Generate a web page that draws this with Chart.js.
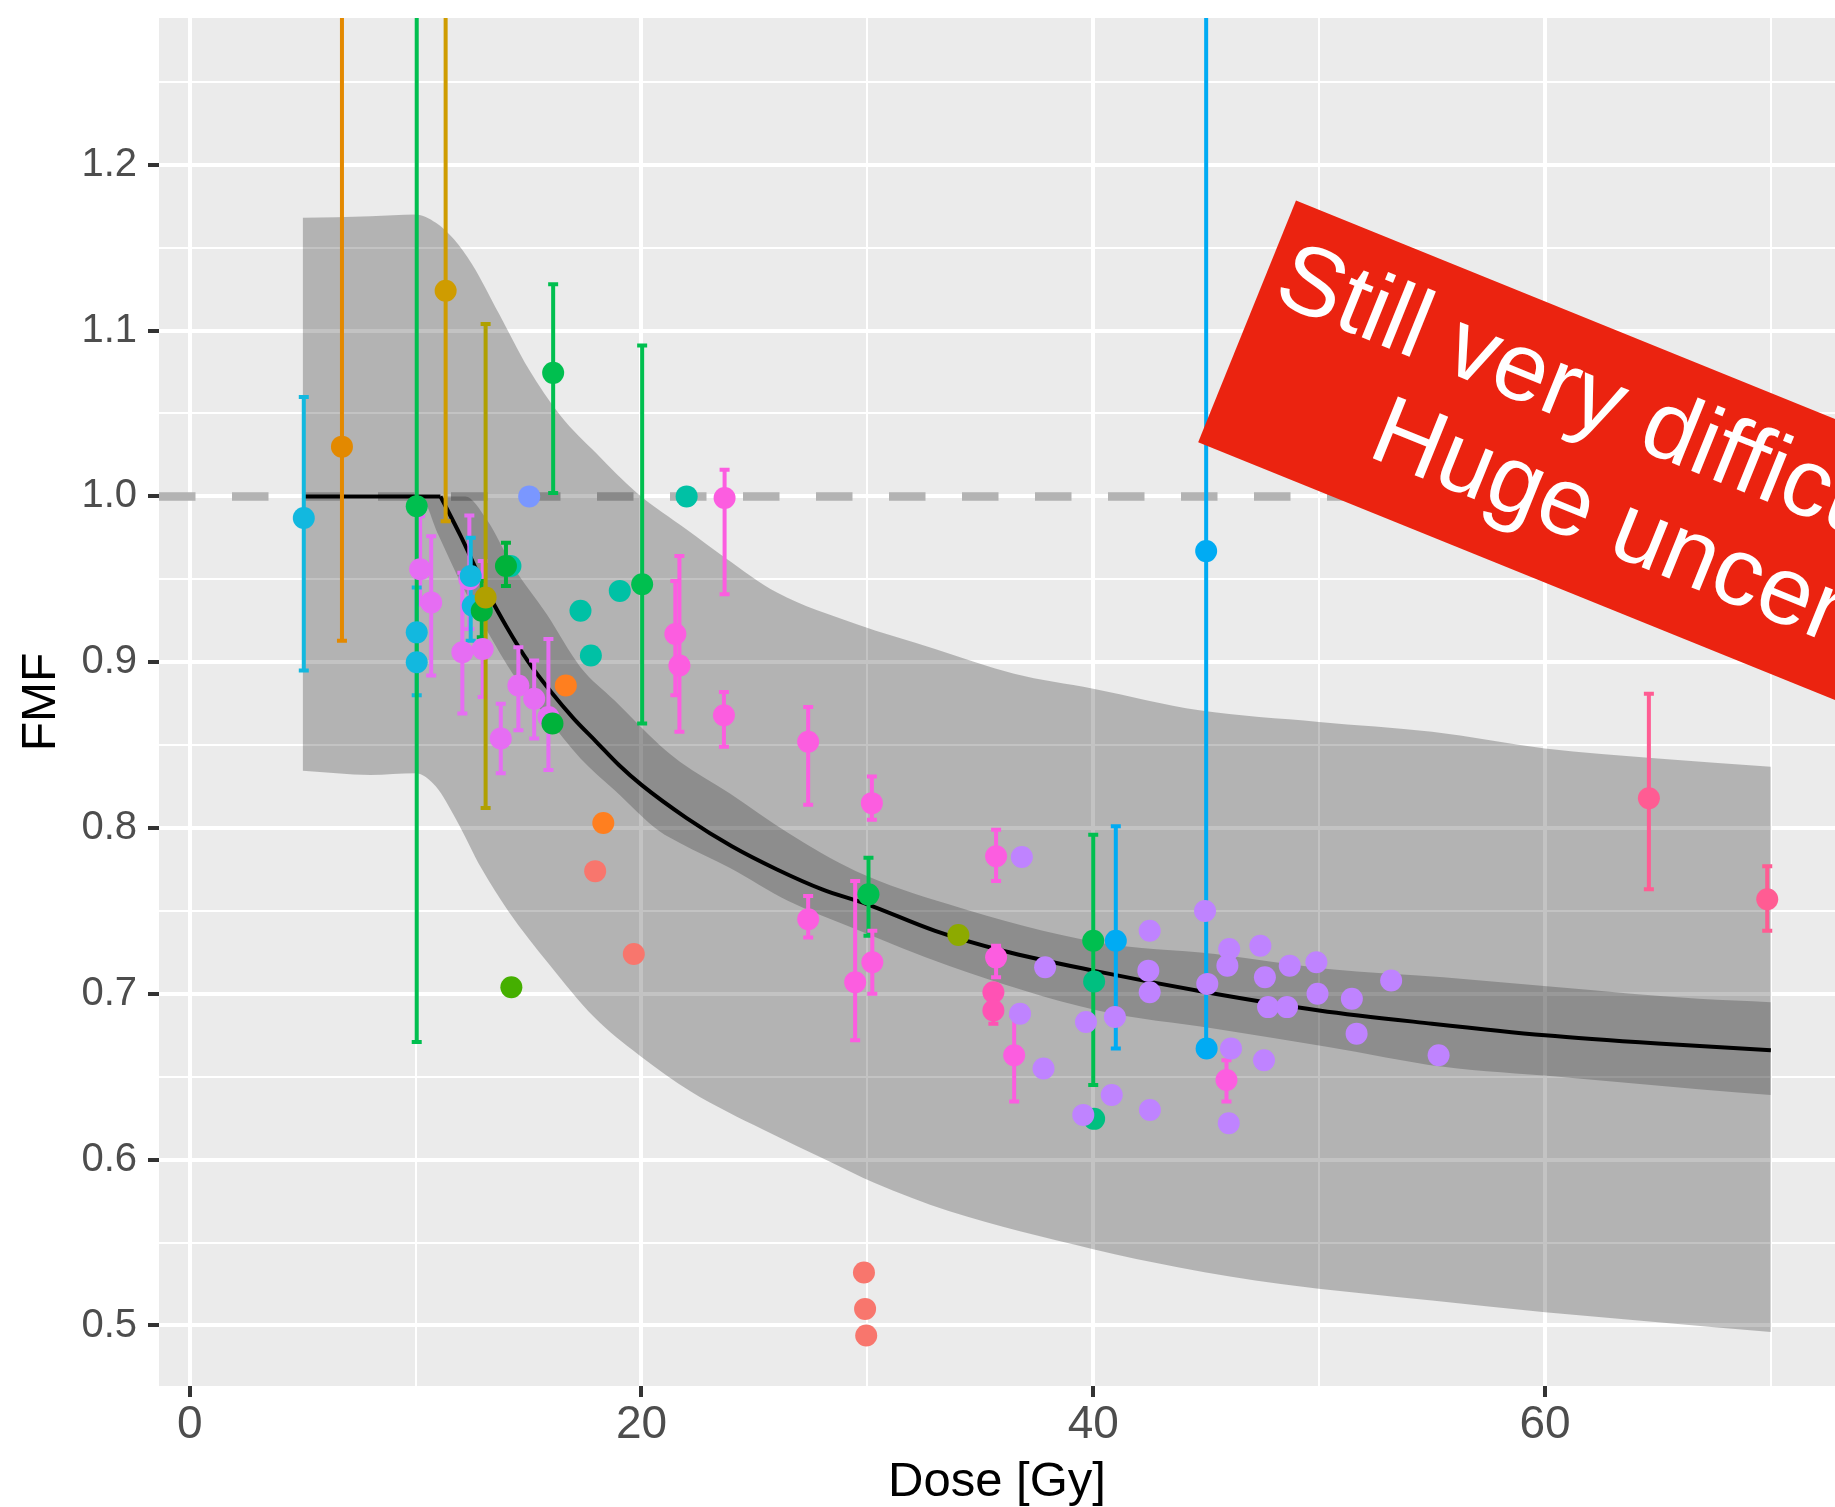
<!DOCTYPE html>
<html>
<head>
<meta charset="utf-8">
<title>FMF vs Dose</title>
<script src="https://cdn.jsdelivr.net/npm/chart.js@4.4.1/dist/chart.umd.min.js"></script>
<style>
  html, body { margin: 0; padding: 0; background: #ffffff; }
  canvas { display: block; }
</style>
</head>
<body>
<canvas id="fmfChart" width="1835" height="1507"></canvas>
<script>
// axis limits and the reference line
const doseLimits = [-1.36, 72.84];
const fmfLimits = [0.4635, 1.2885];
const referenceFmf = 1.0;

// fitted curve [dose, FMF]: flat part, then the falling part
const fitFlat = [[5, 1.0], [11.1, 1.0]];
const fitCurve = [[11.1, 1.0], [12, 0.976], [13, 0.947], [14, 0.922], [15, 0.900],
  [16, 0.882], [17, 0.866], [18, 0.852], [19, 0.838], [20, 0.826], [22, 0.806], [24, 0.789],
  [26, 0.775], [28, 0.763], [30, 0.754], [33, 0.738], [36, 0.726], [40, 0.714], [45, 0.701],
  [50, 0.690], [55, 0.682], [60, 0.675], [65, 0.670], [70, 0.666]];

// narrow (dark) band
const innerUpper = [[5, 1.0], [12.2, 1.0], [13.15, 0.986], [14.3, 0.958], [15.8, 0.929], [17.3, 0.897],
  [18.8, 0.877], [20.8, 0.850], [21.7, 0.840], [23.9, 0.821], [26.5, 0.797], [29.5, 0.774],
  [33.6, 0.754], [40.2, 0.731], [45.4, 0.724], [50.4, 0.715], [55.5, 0.710], [60.6, 0.704],
  [66.8, 0.697], [70, 0.695]];
const innerLower = [[5, 1.0], [10.2, 1.0], [11.0, 0.977], [12.1, 0.945], [13.2, 0.918], [14.3, 0.893],
  [15.8, 0.867], [17.3, 0.842], [18.8, 0.823], [20.8, 0.798], [21.7, 0.791], [23.9, 0.776],
  [26.5, 0.756], [29.5, 0.739], [33.6, 0.717], [40.2, 0.690], [45.4, 0.679], [50.4, 0.668],
  [55.5, 0.656], [60.6, 0.650], [66.8, 0.6425], [70, 0.639]];

// wide (light) band
const outerUpper = [[5, 1.168], [8, 1.169], [10, 1.170], [10.9, 1.165], [11.7, 1.155], [12.5, 1.140],
  [13.7, 1.110], [15.0, 1.077], [16.4, 1.049], [18.0, 1.026], [19.8, 1.002], [22.0, 0.980],
  [23.7, 0.963], [26.0, 0.942], [29.5, 0.923], [33.0, 0.908], [36.5, 0.893], [40.0, 0.884],
  [44.7, 0.871], [50, 0.864], [55, 0.858], [60, 0.848], [65, 0.842], [70, 0.837]];
const outerLower = [[5, 0.8345], [8, 0.832], [10, 0.833], [10.9, 0.825], [11.8, 0.805], [12.9, 0.776],
  [14.1, 0.750], [15.9, 0.718], [17.9, 0.686], [19.9, 0.663], [22.2, 0.641], [25.4, 0.618],
  [28.3, 0.599], [30.3, 0.586], [33.6, 0.569], [40, 0.546], [43.8, 0.535], [48.3, 0.525],
  [55, 0.515], [60, 0.508], [65, 0.502], [70, 0.496]];

// measured points per study: [dose, FMF, lower, upper]
const salmonPts = [[17.95, 0.774], [19.66, 0.724], [29.85, 0.532], [29.9, 0.510], [29.95, 0.494]];
const orangePts = [[6.74, 1.030, 0.913, 1.6]];
const brightOrangePts = [[16.65, 0.886], [18.31, 0.803]];
const goldPts = [[11.33, 1.124, 0.985, 1.6]];
const oliveGoldPts = [[13.1, 0.939, 0.812, 1.104]];
const olivePts = [[34.03, 0.7355]];
const limePts = [[14.24, 0.704]];
const greenPts = [[10.05, 0.994, 0.671, 1.6], [16.09, 1.0745, 1.002, 1.128], [20.03, 0.947, 0.863, 1.091],
  [30.05, 0.760, 0.735, 0.782], [40.0, 0.732, 0.645, 0.796]];
const darkGreenPts = [[12.93, 0.931, 0.915, 0.949], [14.0, 0.958, 0.946, 0.972], [16.06, 0.863]];
const seaGreenPts = [[40.04, 0.7075], [40.04, 0.6246]];
const tealPts = [[14.2, 0.958], [17.3, 0.931], [17.76, 0.904], [19.04, 0.943], [22.0, 1.0]];
const cyanPts = [[5.05, 0.987, 0.895, 1.06], [10.05, 0.918, 0.88, 0.945], [10.05, 0.900],
  [12.44, 0.952, 0.913, 0.975], [12.53, 0.934]];
const skyPts = [[41.0, 0.732, 0.667, 0.801], [45.0, 0.967, 0.667, 1.6], [45.02, 0.667]];
const periwinklePts = [[15.03, 1.0]];
const lilacPts = [[10.2, 0.956, 0.935, 0.988], [10.69, 0.936, 0.892, 0.976], [12.07, 0.906, 0.869, 0.954],
  [12.38, 0.95, 0.92, 0.9885], [12.97, 0.908, 0.879, 0.961], [13.77, 0.854, 0.833, 0.875],
  [14.55, 0.886, 0.859, 0.909], [15.25, 0.878, 0.854, 0.901], [15.88, 0.867, 0.835, 0.914]];
const hotPinkPts = [[21.5, 0.917, 0.88, 0.949], [21.68, 0.898, 0.858, 0.964], [23.68, 0.999, 0.941, 1.016],
  [23.65, 0.868, 0.849, 0.882], [27.38, 0.852, 0.814, 0.873], [27.38, 0.745, 0.734, 0.759],
  [30.2, 0.815, 0.805, 0.831], [29.46, 0.707, 0.672, 0.768], [30.22, 0.719, 0.700, 0.738],
  [35.7, 0.783, 0.768, 0.799], [35.7, 0.722, 0.710, 0.729], [36.5, 0.663, 0.635, 0.687],
  [45.9, 0.648, 0.635, 0.66]];
const rosePts = [[35.58, 0.701], [35.58, 0.690, 0.682, 0.698]];
const pinkRedPts = [[64.6, 0.818, 0.763, 0.881], [69.84, 0.757, 0.738, 0.777]];
const lavenderPts = [[36.84, 0.7825], [37.87, 0.716], [36.76, 0.688], [37.8, 0.655], [39.68, 0.683],
  [39.56, 0.627], [40.96, 0.686], [40.82, 0.639], [42.5, 0.738], [42.44, 0.714], [42.5, 0.701],
  [42.51, 0.630], [44.95, 0.750], [45.05, 0.706], [46.02, 0.727], [45.94, 0.717], [46.1, 0.667],
  [46.0, 0.622], [47.4, 0.729], [47.6, 0.710], [47.74, 0.692], [47.56, 0.660], [48.58, 0.692],
  [48.7, 0.717], [49.88, 0.719], [49.93, 0.700], [51.45, 0.697], [51.66, 0.676], [53.19, 0.708],
  [55.29, 0.663]];

const bannerLines = ["Still very difficult!", "Huge uncertainties"];

// groups in drawing order (first is drawn first)
const groups = [
  [salmonPts, "#F8766D"], [orangePts, "#E38900"], [brightOrangePts, "#FF7F1F"],
  [goldPts, "#CF9C00"], [olivePts, "#8DAA00"], [limePts, "#45AF00"], [tealPts, "#00C1A5"],
  [lilacPts, "#E66DF3"], [cyanPts, "#12B8DF"], [greenPts, "#00BF4F"], [darkGreenPts, "#00B23A"],
  [oliveGoldPts, "#B0A000"], [seaGreenPts, "#00BF80"], [periwinklePts, "#7A97FF"],
  [hotPinkPts, "#FC5DE0"], [rosePts, "#FF52B4"], [pinkRedPts, "#FF5C93"], [skyPts, "#00ABF3"],
  [lavenderPts, "#BF83FF"]
];

Chart.defaults.font.family = "'Liberation Sans', Arial, sans-serif";

const toXY = pairs => pairs.map(p => ({ x: p[0], y: p[1] }));

function edge(pairs, fill, color, order) {
  return {
    data: toXY(pairs), fill: fill, backgroundColor: color, borderColor: "rgba(0,0,0,0)",
    borderWidth: 0, pointRadius: 0, cubicInterpolationMode: "monotone", order: order
  };
}

const datasets = [
  {
    data: toXY([[doseLimits[0], referenceFmf], [doseLimits[1], referenceFmf]]),
    borderColor: "#B3B3B3", borderWidth: 8.5, borderDash: [36.5, 36.5], borderCapStyle: "butt",
    pointRadius: 0, fill: false, order: 1000
  },
  edge(outerUpper, "+1", "rgba(0,0,0,0.235)", 900),
  edge(outerLower, false, "rgba(0,0,0,0)", 900),
  edge(innerUpper, "+1", "rgba(0,0,0,0.21)", 800),
  edge(innerLower, false, "rgba(0,0,0,0)", 800),
  {
    data: toXY(fitFlat), borderColor: "#000000", borderWidth: 4, pointRadius: 0,
    fill: false, order: 701
  },
  {
    data: toXY(fitCurve), borderColor: "#000000", borderWidth: 4, pointRadius: 0,
    cubicInterpolationMode: "monotone", fill: false, order: 700, isCurve: true
  }
];

groups.forEach(([rows, color], k) => {
  datasets.push({
    data: rows.map(r => ({ x: r[0], y: r[1] })),
    bars: rows.filter(r => r.length > 2).map(r => ({ x: r[0], lo: r[2], hi: r[3] })),
    showLine: false, fill: false, pointRadius: 11, pointHoverRadius: 11, pointBorderWidth: 0,
    backgroundColor: color, borderColor: color, order: 100 - k
  });
});

// grey panel behind the grid
const panel = {
  id: "panel",
  beforeDraw(chart) {
    const { ctx, chartArea } = chart;
    ctx.save();
    ctx.fillStyle = "#ffffff";
    ctx.fillRect(0, 0, chart.width, chart.height);
    ctx.fillStyle = "#EBEBEB";
    ctx.fillRect(chartArea.left, chartArea.top, chartArea.width, chartArea.height);
    ctx.restore();
  }
};

// error bars, drawn right after the fitted curve so points sit on top
const errorBars = {
  id: "errorBars",
  afterDatasetDraw(chart, args) {
    if (!chart.data.datasets[args.index].isCurve) return;
    const { ctx, chartArea, scales } = chart;
    ctx.save();
    ctx.beginPath();
    ctx.rect(chartArea.left, chartArea.top, chartArea.width, chartArea.height);
    ctx.clip();
    ctx.lineWidth = 4;
    ctx.lineCap = "butt";
    chart.data.datasets.forEach(set => {
      if (!set.bars) return;
      ctx.strokeStyle = set.borderColor;
      set.bars.forEach(b => {
        const px = scales.x.getPixelForValue(b.x);
        const top = scales.y.getPixelForValue(b.hi);
        const bot = scales.y.getPixelForValue(b.lo);
        ctx.beginPath();
        ctx.moveTo(px, top);
        ctx.lineTo(px, bot);
        ctx.moveTo(px - 5, top);
        ctx.lineTo(px + 5, top);
        ctx.moveTo(px - 5, bot);
        ctx.lineTo(px + 5, bot);
        ctx.stroke();
      });
    });
    ctx.restore();
  }
};

// red note across the upper right
const banner = {
  id: "banner",
  afterDraw(chart) {
    const { ctx } = chart;
    ctx.save();
    ctx.translate(1296, 200.6);
    ctx.rotate(22.05 * Math.PI / 180);
    ctx.fillStyle = "#EB2310";
    ctx.fillRect(0, 0, 1100, 260.6);
    ctx.fillStyle = "#ffffff";
    ctx.font = "97px 'Liberation Sans', Arial, sans-serif";
    ctx.textBaseline = "alphabetic";
    ctx.fillText(bannerLines[0], 14, 102);
    ctx.fillText(bannerLines[1], 160, 210);
    ctx.restore();
  }
};

const isMajorX = v => Math.abs(v % 20) < 1e-6;
const isMajorY = v => Math.abs(v * 10 - Math.round(v * 10)) < 1e-6;

new Chart(document.getElementById("fmfChart"), {
  type: "line",
  data: { datasets: datasets },
  plugins: [panel, errorBars, banner],
  options: {
    responsive: false,
    animation: false,
    devicePixelRatio: 1,
    events: [],
    layout: { autoPadding: false, padding: { top: 18, right: 0, bottom: 0, left: 0 } },
    plugins: { legend: { display: false }, tooltip: { enabled: false } },
    scales: {
      x: {
        type: "linear",
        min: doseLimits[0],
        max: doseLimits[1],
        afterFit: s => { s.height = 121; s.paddingLeft = 0; s.paddingRight = 0; },
        border: { display: false },
        grid: {
          color: "#FFFFFF",
          lineWidth: c => (isMajorX(c.tick.value) ? 4 : 2),
          tickColor: c => (isMajorX(c.tick.value) ? "#333333" : "rgba(0,0,0,0)"),
          tickWidth: 4,
          tickLength: 11
        },
        ticks: {
          stepSize: 10,
          includeBounds: false,
          autoSkip: false,
          maxRotation: 0,
          minRotation: 0,
          padding: 5,
          color: "#4D4D4D",
          font: { size: 46, lineHeight: 1 },
          callback: v => (isMajorX(v) ? String(v) : "")
        },
        title: {
          display: true,
          text: "Dose [Gy]",
          color: "#000000",
          font: { size: 49, lineHeight: 1 },
          padding: { top: 0, bottom: 0 }
        }
      },
      y: {
        min: fmfLimits[0],
        max: fmfLimits[1],
        afterFit: s => { s.width = 159; s.paddingTop = 0; s.paddingBottom = 0; },
        border: { display: false },
        grid: {
          color: "#FFFFFF",
          lineWidth: c => (isMajorY(c.tick.value) ? 4 : 2),
          tickColor: c => (isMajorY(c.tick.value) ? "#333333" : "rgba(0,0,0,0)"),
          tickWidth: 4,
          tickLength: 11
        },
        ticks: {
          stepSize: 0.05,
          includeBounds: false,
          autoSkip: false,
          padding: 11,
          color: "#4D4D4D",
          font: { size: 40 },
          callback: v => (isMajorY(v) ? v.toFixed(1) : "")
        },
        title: {
          display: true,
          text: "FMF",
          color: "#000000",
          font: { size: 48, lineHeight: 1 },
          padding: { top: 18, bottom: 0 }
        }
      }
    }
  }
});
</script>
</body>
</html>
